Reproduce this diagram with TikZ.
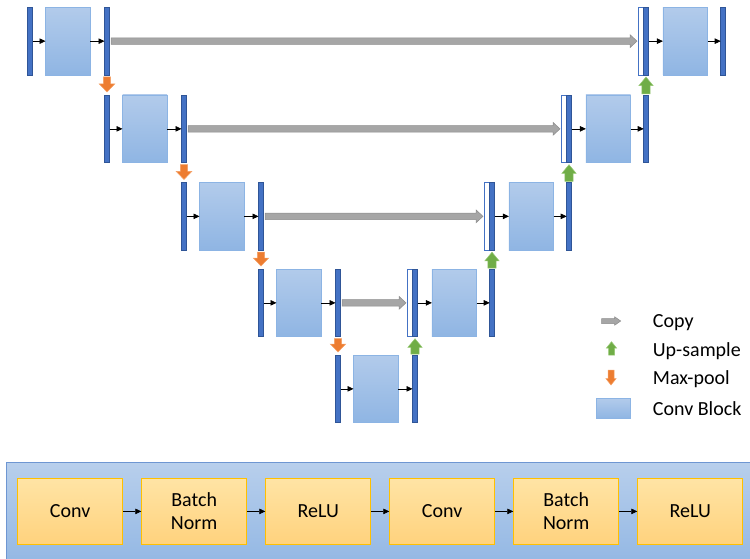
\documentclass[tikz,border=0pt]{standalone}
\usepackage{fontspec}
\setmainfont{Carlito}
\usetikzlibrary{arrows.meta,calc}
\definecolor{barblue}{RGB}{68,114,196}
\definecolor{baredge}{RGB}{47,85,151}
\definecolor{blocktop}{RGB}{178,203,235}
\definecolor{blockbot}{RGB}{143,181,227}
\definecolor{blockedge}{RGB}{140,180,228}
\definecolor{copyfill}{RGB}{166,166,166}
\definecolor{copyedge}{RGB}{140,140,140}
\definecolor{poolfill}{RGB}{237,125,49}
\definecolor{pooledge}{RGB}{245,160,100}
\definecolor{upfill}{RGB}{112,173,71}
\definecolor{upedge}{RGB}{150,200,115}
\definecolor{paneltop}{RGB}{184,207,236}
\definecolor{panelbot}{RGB}{148,184,228}
\definecolor{paneledge}{RGB}{110,150,210}
\definecolor{optop}{RGB}{255,228,165}
\definecolor{opbot}{RGB}{255,210,125}
\definecolor{opedge}{RGB}{255,192,0}
\newcommand\harrow[6]{\draw[#6] let \p1=(#1), \p2=(#2) in
  (\x1,\y1+#3) -- (\x2-#5,\y1+#3) -- (\x2-#5,\y1+#4) -- (\x2,\y1)
  -- (\x2-#5,\y1-#4) -- (\x2-#5,\y1-#3) -- (\x1,\y1-#3) -- cycle;}
\newcommand\darrow[6]{\draw[#6] let \p1=(#1), \p2=(#2) in
  (\x1-#3,\y1) -- (\x1+#3,\y1) -- (\x1+#3,\y2+#5) -- (\x1+#4,\y2+#5) -- (\x1,\y2)
  -- (\x1-#4,\y2+#5) -- (\x1-#3,\y2+#5) -- cycle;}
\newcommand\uarrow[6]{\draw[#6] let \p1=(#1), \p2=(#2) in
  (\x1-#3,\y1) -- (\x1+#3,\y1) -- (\x1+#3,\y2-#5) -- (\x1+#4,\y2-#5) -- (\x1,\y2)
  -- (\x1-#4,\y2-#5) -- (\x1-#3,\y2-#5) -- cycle;}
\tikzset{
  bar/.style={draw=baredge, fill=barblue, line width=0.5pt, minimum width=5pt,
    minimum height=67.7pt, inner sep=0pt, outer sep=0pt, anchor=north west},
  wbar/.style={bar, fill=white, draw=barblue},
  cblock/.style={draw=blockedge, line width=0.8pt, top color=blocktop, bottom color=blockbot,
    minimum width=44.7pt, minimum height=67.7pt, inner sep=0pt, outer sep=0pt, anchor=north west},
  flow/.style={-{Triangle[length=6pt,width=5.5pt]}, line width=0.6pt, black},
  copyarr/.style={fill=copyfill, draw=copyedge, line width=0.5pt},
  poolarr/.style={fill=poolfill, draw=pooledge, line width=0.5pt},
  uparr/.style={fill=upfill, draw=upedge, line width=0.5pt},
  legtext/.style={anchor=base west, inner sep=0pt, font=\fontsize{20}{23}\selectfont},
  panel/.style={draw=paneledge, line width=0.8pt, top color=paneltop, bottom color=panelbot,
    inner sep=0pt, anchor=north west},
  opbox/.style={draw=opedge, line width=0.8pt, top color=optop, bottom color=opbot,
    minimum width=105pt, minimum height=66.6pt, inner sep=0pt, anchor=north west,
    align=center, font=\fontsize{20}{23}\selectfont},
}
\begin{document}
\begin{tikzpicture}[x=1pt,y=-1pt]
\useasboundingbox (0,0) rectangle (750,559);
% encoder side
\foreach \i/\yt in {1/7.3, 2/95, 3/182.5, 4/269, 5/355} {
  \pgfmathsetmacro\L{27.5+77*(\i-1)}
  \node[bar] (la\i) at (\L,\yt) {};
  \node[cblock] (lk\i) at (\L+18,\yt) {};
  \node[bar] (lb\i) at (\L+77,\yt) {};
  \draw[flow] (la\i.east) -- (lk\i.west);
  \draw[flow] (lk\i.east) -- (lb\i.west);
}
% decoder side
\foreach \i/\yt in {1/7.3, 2/95, 3/182.5, 4/269} {
  \pgfmathsetmacro\R{643.5-77*(\i-1)}
  \node[wbar] (rw\i) at (\R-5,\yt) {};
  \node[bar] (ra\i) at (\R,\yt) {};
  \node[cblock] (rk\i) at (\R+19.4,\yt) {};
  \node[bar] (rb\i) at (\R+77.2,\yt) {};
  \draw[flow] (ra\i.east) -- (rk\i.west);
  \draw[flow] (rk\i.east) -- (rb\i.west);
  \harrow{[xshift=1.5pt]lb\i.east}{[xshift=-1.5pt]rw\i.west}{3.3pt}{6.5pt}{7pt}{copyarr}
}
% max-pool arrows
\foreach \i/\j in {1/2, 2/3, 3/4, 4/5} {
  \darrow{[yshift=-2pt]lb\i.south}{[yshift=3pt]la\j.north}{3.7pt}{7.7pt}{8pt}{poolarr}
}
% up-sample arrows
\foreach \i/\j in {1/2, 2/3, 3/4} {
  \uarrow{[yshift=1pt]ra\i.south |- rb\j.north}{[yshift=-2pt]ra\i.south}{4.2pt}{7.2pt}{8.7pt}{uparr}
}
\uarrow{[yshift=1pt]ra4.south |- lb5.north}{[yshift=-2pt]ra4.south}{4.2pt}{7.2pt}{8.7pt}{uparr}
% legend
\coordinate (lcA) at (601.7,321);
\coordinate (lcB) at (620.7,321);
\harrow{lcA}{lcB}{2.5pt}{4.2pt}{6pt}{copyarr}
\node[legtext] (tcopy) at (652.7,327.3) {Copy};
\coordinate (luA) at (611.5,355);
\coordinate (luB) at (611.5,341.7);
\uarrow{luA}{luB}{3pt}{5.2pt}{6.5pt}{uparr}
\node[legtext] (tup) at (652.7,356) {Up-sample};
\coordinate (lpA) at (611,370);
\coordinate (lpB) at (611,385);
\darrow{lpA}{lpB}{3pt}{5.2pt}{6.5pt}{poolarr}
\node[legtext] (tpool) at (652.7,384) {Max-pool};
\node[cblock, minimum width=34pt, minimum height=20pt] (lblock) at (596.7,398.3) {};
\node[legtext] (tblock) at (652.7,415) {Conv Block};
% conv block detail panel
\node[panel, minimum width=745pt, minimum height=99pt] (panel) at (6,461.7) {};
\foreach \j/\t in {1/Conv, 2/{Batch\\Norm}, 3/ReLU, 4/Conv, 5/{Batch\\Norm}, 6/ReLU} {
  \node[opbox] (c\j) at (17.3+124*\j-124,477.7) {\t};
}
\foreach \j/\k in {1/2, 2/3, 3/4, 4/5, 5/6} {
  \draw[flow] (c\j.east) -- (c\k.west);
}
\end{tikzpicture}
\end{document}
